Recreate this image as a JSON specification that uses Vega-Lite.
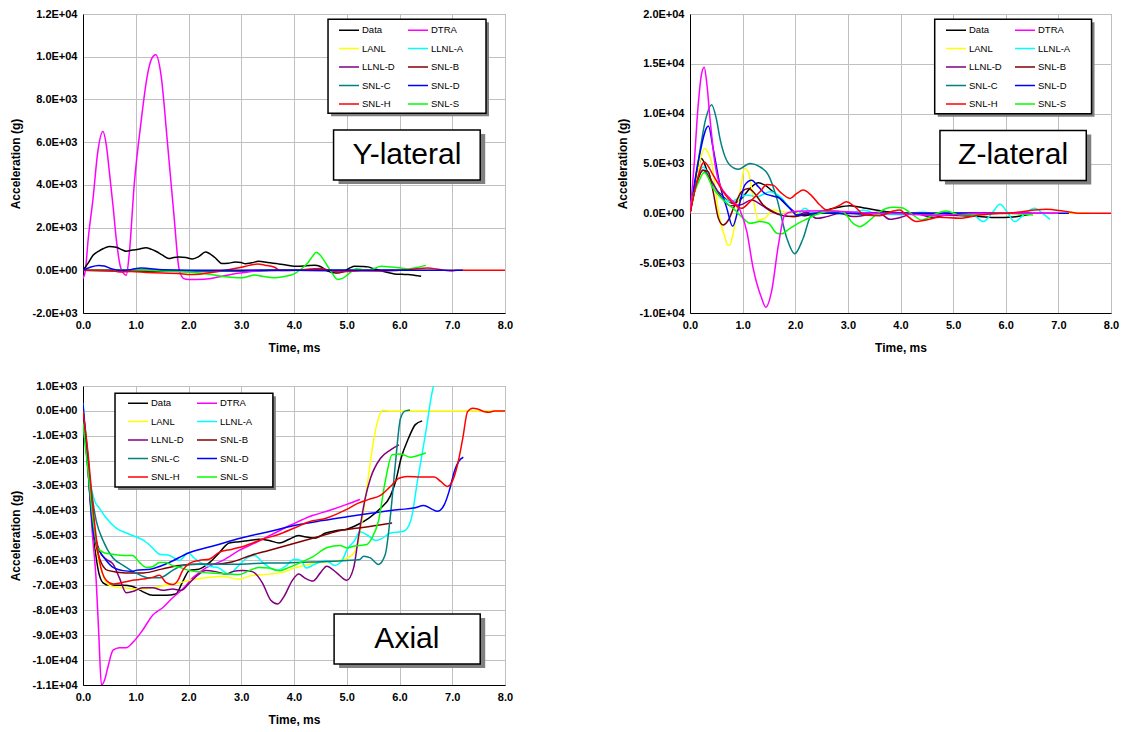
{
"$schema":"https://vega.github.io/schema/vega-lite/v6.json",
"background":"white",
"padding":{"left":8,"top":7,"right":5,"bottom":5},
"config":{
 "font":"Liberation Sans",
 "view":{"stroke":"#808080","strokeWidth":1},
 "axis":{"domainColor":"#000000","domainWidth":1,"gridColor":"#C0C0C0","gridWidth":1,"labelFont":"Liberation Sans","labelFontSize":11,"labelFontWeight":"bold","labelColor":"#000000","titleFont":"Liberation Sans","titleFontSize":12,"titleFontWeight":"bold","titleColor":"#000000","ticks":false,"labelPadding":6,"labelFlush":false,"labelOverlap":false,"labelBound":false,"tickCount":20},
 "legend":{"title":null,"orient":"none","columns":2,"symbolType":"stroke","symbolSize":400,"symbolStrokeWidth":1.5,"labelFont":"Liberation Sans","labelFontSize":9.5,"labelColor":"#000000","padding":0,"rowPadding":2.5,"columnPadding":10,"symbolOffset":0,"labelOffset":2}
},
"datasets":{
"ann":[
 {"p":"Y","k":"label","x1":4.75,"x2":7.53,"y1":6569,"y2":4228},
 {"p":"Z","k":"label","x1":4.75,"x2":7.53,"y1":8322,"y2":3289},
 {"p":"A","k":"label","x1":4.76,"x2":7.53,"y1":-8150,"y2":-10157},
 {"p":"Y","k":"legend","x1":4.645,"x2":7.64,"y1":11752,"y2":7351},
 {"p":"Z","k":"legend","x1":4.65,"x2":7.63,"y1":19466,"y2":10003},
 {"p":"A","k":"legend","x1":0.607,"x2":3.6,"y1":707,"y2":-3053}
],
"lbl":[
 {"p":"Y","label":"Y-lateral","tx":6.14,"ty":5398},
 {"p":"Z","label":"Z-lateral","tx":6.14,"ty":5806},
 {"p":"A","label":"Axial","tx":6.14,"ty":-9153}
],
"ylat":[
 {"s":"LANL","t":0,"v":0},{"s":"LANL","t":0.5,"v":30},{"s":"LANL","t":1,"v":0},{"s":"LANL","t":2,"v":-20},{"s":"LANL","t":3,"v":0},{"s":"LANL","t":4,"v":10},{"s":"LANL","t":5,"v":0},{"s":"LANL","t":6,"v":0},{"s":"LANL","t":7.25,"v":0},
 {"s":"LLNL-A","t":0,"v":0},{"s":"LLNL-A","t":0.5,"v":-20},{"s":"LLNL-A","t":1.5,"v":0},{"s":"LLNL-A","t":2.5,"v":-30},{"s":"LLNL-A","t":3.5,"v":0},{"s":"LLNL-A","t":4.5,"v":20},{"s":"LLNL-A","t":5.5,"v":0},{"s":"LLNL-A","t":6.8,"v":0},
 {"s":"LLNL-D","t":0,"v":0},{"s":"LLNL-D","t":1,"v":-30},{"s":"LLNL-D","t":2,"v":-50},{"s":"LLNL-D","t":3,"v":-20},{"s":"LLNL-D","t":4,"v":0},{"s":"LLNL-D","t":5,"v":-20},{"s":"LLNL-D","t":6,"v":0},
 {"s":"SNL-B","t":0,"v":0},{"s":"SNL-B","t":1,"v":-40},{"s":"SNL-B","t":2,"v":-60},{"s":"SNL-B","t":3,"v":-30},{"s":"SNL-B","t":4,"v":0},{"s":"SNL-B","t":5,"v":-10},{"s":"SNL-B","t":5.9,"v":0},
 {"s":"SNL-C","t":0,"v":0},{"s":"SNL-C","t":1,"v":20},{"s":"SNL-C","t":2,"v":-40},{"s":"SNL-C","t":3,"v":-20},{"s":"SNL-C","t":4,"v":10},{"s":"SNL-C","t":5,"v":0},{"s":"SNL-C","t":6.2,"v":0},
 {"s":"DTRA","t":0,"v":-390},{"s":"DTRA","t":0.045,"v":0},{"s":"DTRA","t":0.1,"v":1500},{"s":"DTRA","t":0.19,"v":3350},{"s":"DTRA","t":0.28,"v":5540},{"s":"DTRA","t":0.377,"v":6500},{"s":"DTRA","t":0.44,"v":5900},{"s":"DTRA","t":0.5,"v":4600},{"s":"DTRA","t":0.57,"v":3000},{"s":"DTRA","t":0.63,"v":1480},{"s":"DTRA","t":0.72,"v":80},{"s":"DTRA","t":0.82,"v":-234},{"s":"DTRA","t":0.88,"v":860},{"s":"DTRA","t":0.97,"v":3980},{"s":"DTRA","t":1.1,"v":6940},{"s":"DTRA","t":1.22,"v":9130},{"s":"DTRA","t":1.3,"v":9900},{"s":"DTRA","t":1.38,"v":10090},{"s":"DTRA","t":1.48,"v":9130},{"s":"DTRA","t":1.6,"v":6000},{"s":"DTRA","t":1.73,"v":2420},{"s":"DTRA","t":1.82,"v":80},{"s":"DTRA","t":1.91,"v":-390},{"s":"DTRA","t":2.0,"v":-430},{"s":"DTRA","t":2.3,"v":-420},{"s":"DTRA","t":2.6,"v":-300},{"s":"DTRA","t":2.9,"v":-150},{"s":"DTRA","t":3.2,"v":-60},{"s":"DTRA","t":3.4,"v":0},
 {"s":"Data","t":0,"v":0},{"s":"Data","t":0.1,"v":350},{"s":"Data","t":0.19,"v":700},{"s":"Data","t":0.3,"v":900},{"s":"Data","t":0.38,"v":1010},{"s":"Data","t":0.5,"v":1110},{"s":"Data","t":0.63,"v":1080},{"s":"Data","t":0.75,"v":950},{"s":"Data","t":0.82,"v":890},{"s":"Data","t":0.94,"v":950},{"s":"Data","t":1.05,"v":980},{"s":"Data","t":1.19,"v":1060},{"s":"Data","t":1.3,"v":980},{"s":"Data","t":1.38,"v":890},{"s":"Data","t":1.5,"v":720},{"s":"Data","t":1.63,"v":550},{"s":"Data","t":1.72,"v":600},{"s":"Data","t":1.82,"v":620},{"s":"Data","t":1.95,"v":600},{"s":"Data","t":2.07,"v":530},{"s":"Data","t":2.2,"v":650},{"s":"Data","t":2.32,"v":860},{"s":"Data","t":2.4,"v":780},{"s":"Data","t":2.5,"v":600},{"s":"Data","t":2.63,"v":320},{"s":"Data","t":2.75,"v":330},{"s":"Data","t":2.89,"v":390},{"s":"Data","t":3.0,"v":360},{"s":"Data","t":3.08,"v":310},{"s":"Data","t":3.2,"v":350},{"s":"Data","t":3.33,"v":420},{"s":"Data","t":3.5,"v":360},{"s":"Data","t":3.7,"v":300},{"s":"Data","t":3.85,"v":250},{"s":"Data","t":4.0,"v":190},{"s":"Data","t":4.2,"v":200},{"s":"Data","t":4.39,"v":240},{"s":"Data","t":4.5,"v":180},{"s":"Data","t":4.64,"v":-40},{"s":"Data","t":4.8,"v":-130},{"s":"Data","t":4.92,"v":-80},{"s":"Data","t":5.05,"v":100},{"s":"Data","t":5.15,"v":190},{"s":"Data","t":5.3,"v":180},{"s":"Data","t":5.4,"v":160},{"s":"Data","t":5.5,"v":80},{"s":"Data","t":5.65,"v":-20},{"s":"Data","t":5.8,"v":-120},{"s":"Data","t":5.9,"v":-170},{"s":"Data","t":6.05,"v":-190},{"s":"Data","t":6.16,"v":-200},{"s":"Data","t":6.3,"v":-240},{"s":"Data","t":6.41,"v":-280},
 {"s":"SNL-S","t":0,"v":0},{"s":"SNL-S","t":0.5,"v":0},{"s":"SNL-S","t":1.0,"v":20},{"s":"SNL-S","t":1.5,"v":-30},{"s":"SNL-S","t":1.8,"v":-60},{"s":"SNL-S","t":2.1,"v":-100},{"s":"SNL-S","t":2.42,"v":-200},{"s":"SNL-S","t":2.7,"v":-300},{"s":"SNL-S","t":2.99,"v":-354},{"s":"SNL-S","t":3.1,"v":-310},{"s":"SNL-S","t":3.25,"v":-215},{"s":"SNL-S","t":3.4,"v":-280},{"s":"SNL-S","t":3.63,"v":-354},{"s":"SNL-S","t":3.8,"v":-300},{"s":"SNL-S","t":4.0,"v":-170},{"s":"SNL-S","t":4.13,"v":50},{"s":"SNL-S","t":4.26,"v":340},{"s":"SNL-S","t":4.35,"v":650},{"s":"SNL-S","t":4.42,"v":850},{"s":"SNL-S","t":4.5,"v":700},{"s":"SNL-S","t":4.58,"v":415},{"s":"SNL-S","t":4.7,"v":-50},{"s":"SNL-S","t":4.83,"v":-430},{"s":"SNL-S","t":4.92,"v":-380},{"s":"SNL-S","t":5.02,"v":-200},{"s":"SNL-S","t":5.18,"v":77},{"s":"SNL-S","t":5.3,"v":30},{"s":"SNL-S","t":5.4,"v":-15},{"s":"SNL-S","t":5.5,"v":60},{"s":"SNL-S","t":5.65,"v":185},{"s":"SNL-S","t":5.78,"v":170},{"s":"SNL-S","t":5.9,"v":140},{"s":"SNL-S","t":6.05,"v":90},{"s":"SNL-S","t":6.16,"v":60},{"s":"SNL-S","t":6.3,"v":120},{"s":"SNL-S","t":6.5,"v":230},
 {"s":"SNL-H","t":0,"v":0},{"s":"SNL-H","t":0.5,"v":0},{"s":"SNL-H","t":0.7,"v":-80},{"s":"SNL-H","t":0.9,"v":-60},{"s":"SNL-H","t":1.2,"v":-100},{"s":"SNL-H","t":1.5,"v":-130},{"s":"SNL-H","t":1.8,"v":-150},{"s":"SNL-H","t":2.04,"v":-200},{"s":"SNL-H","t":2.2,"v":-180},{"s":"SNL-H","t":2.49,"v":-80},{"s":"SNL-H","t":2.75,"v":30},{"s":"SNL-H","t":3.0,"v":140},{"s":"SNL-H","t":3.15,"v":230},{"s":"SNL-H","t":3.31,"v":290},{"s":"SNL-H","t":3.45,"v":240},{"s":"SNL-H","t":3.63,"v":140},{"s":"SNL-H","t":3.75,"v":-15},{"s":"SNL-H","t":3.9,"v":-10},{"s":"SNL-H","t":4.13,"v":15},{"s":"SNL-H","t":4.3,"v":60},{"s":"SNL-H","t":4.5,"v":80},{"s":"SNL-H","t":4.65,"v":20},{"s":"SNL-H","t":4.83,"v":-80},{"s":"SNL-H","t":5.0,"v":-60},{"s":"SNL-H","t":5.27,"v":-15},{"s":"SNL-H","t":5.6,"v":-30},{"s":"SNL-H","t":5.9,"v":-15},{"s":"SNL-H","t":6.2,"v":40},{"s":"SNL-H","t":6.54,"v":110},{"s":"SNL-H","t":6.7,"v":60},{"s":"SNL-H","t":6.85,"v":0},{"s":"SNL-H","t":7.0,"v":-30},{"s":"SNL-H","t":7.1,"v":0},{"s":"SNL-H","t":8.0,"v":0},
 {"s":"SNL-D","t":0,"v":0},{"s":"SNL-D","t":0.15,"v":150},{"s":"SNL-D","t":0.3,"v":220},{"s":"SNL-D","t":0.4,"v":200},{"s":"SNL-D","t":0.55,"v":60},{"s":"SNL-D","t":0.7,"v":0},{"s":"SNL-D","t":0.9,"v":30},{"s":"SNL-D","t":1.1,"v":110},{"s":"SNL-D","t":1.25,"v":80},{"s":"SNL-D","t":1.5,"v":20},{"s":"SNL-D","t":2,"v":0},{"s":"SNL-D","t":3,"v":0},{"s":"SNL-D","t":4,"v":0},{"s":"SNL-D","t":5,"v":0},{"s":"SNL-D","t":6,"v":0},{"s":"SNL-D","t":7.2,"v":0}
],
"zlat":[
 {"s":"Data","t":0,"v":0},{"s":"Data","t":0.1,"v":3000},{"s":"Data","t":0.22,"v":5500},{"s":"Data","t":0.32,"v":4330},{"s":"Data","t":0.44,"v":2830},{"s":"Data","t":0.63,"v":1670},{"s":"Data","t":0.82,"v":1000},{"s":"Data","t":0.98,"v":1500},{"s":"Data","t":1.14,"v":2500},{"s":"Data","t":1.3,"v":3060},{"s":"Data","t":1.42,"v":2830},{"s":"Data","t":1.58,"v":2160},{"s":"Data","t":1.77,"v":1170},{"s":"Data","t":1.96,"v":230},{"s":"Data","t":2.18,"v":-230},{"s":"Data","t":2.47,"v":170},{"s":"Data","t":2.78,"v":570},{"s":"Data","t":3.04,"v":770},{"s":"Data","t":3.35,"v":500},{"s":"Data","t":3.73,"v":170},{"s":"Data","t":4.24,"v":0},{"s":"Data","t":4.87,"v":-170},{"s":"Data","t":5.5,"v":-330},{"s":"Data","t":5.82,"v":-430},{"s":"Data","t":6.14,"v":-370},{"s":"Data","t":6.46,"v":-100},
 {"s":"LANL","t":0,"v":0},{"s":"LANL","t":0.1,"v":2500},{"s":"LANL","t":0.2,"v":5500},{"s":"LANL","t":0.28,"v":6500},{"s":"LANL","t":0.35,"v":6000},{"s":"LANL","t":0.41,"v":5160},{"s":"LANL","t":0.48,"v":2500},{"s":"LANL","t":0.54,"v":170},{"s":"LANL","t":0.6,"v":-1300},{"s":"LANL","t":0.66,"v":-2330},{"s":"LANL","t":0.72,"v":-3200},{"s":"LANL","t":0.76,"v":-3160},{"s":"LANL","t":0.8,"v":-2500},{"s":"LANL","t":0.85,"v":-1170},{"s":"LANL","t":0.95,"v":2160},{"s":"LANL","t":1.04,"v":4500},{"s":"LANL","t":1.11,"v":4160},{"s":"LANL","t":1.2,"v":1500},{"s":"LANL","t":1.3,"v":-670},{"s":"LANL","t":1.42,"v":-500},{"s":"LANL","t":1.58,"v":330},{"s":"LANL","t":1.77,"v":170},{"s":"LANL","t":2.03,"v":0},{"s":"LANL","t":3,"v":0},{"s":"LANL","t":4,"v":0},{"s":"LANL","t":5,"v":0},{"s":"LANL","t":6,"v":0},{"s":"LANL","t":7,"v":0},{"s":"LANL","t":7.6,"v":0},
 {"s":"LLNL-A","t":0,"v":0},{"s":"LLNL-A","t":0.1,"v":2500},{"s":"LLNL-A","t":0.25,"v":4660},{"s":"LLNL-A","t":0.44,"v":2830},{"s":"LLNL-A","t":0.6,"v":1700},{"s":"LLNL-A","t":0.76,"v":1170},{"s":"LLNL-A","t":0.92,"v":1500},{"s":"LLNL-A","t":1.08,"v":1830},{"s":"LLNL-A","t":1.27,"v":1670},{"s":"LLNL-A","t":1.52,"v":2160},{"s":"LLNL-A","t":1.71,"v":1670},{"s":"LLNL-A","t":1.9,"v":500},{"s":"LLNL-A","t":2.03,"v":-170},{"s":"LLNL-A","t":2.18,"v":500},{"s":"LLNL-A","t":2.34,"v":0},{"s":"LLNL-A","t":2.6,"v":200},{"s":"LLNL-A","t":2.9,"v":-100},{"s":"LLNL-A","t":3.3,"v":300},{"s":"LLNL-A","t":3.6,"v":-100},{"s":"LLNL-A","t":4.0,"v":-150},{"s":"LLNL-A","t":4.4,"v":100},{"s":"LLNL-A","t":4.8,"v":-100},{"s":"LLNL-A","t":5.2,"v":0},{"s":"LLNL-A","t":5.4,"v":-200},{"s":"LLNL-A","t":5.57,"v":-830},{"s":"LLNL-A","t":5.75,"v":100},{"s":"LLNL-A","t":5.89,"v":900},{"s":"LLNL-A","t":6.03,"v":100},{"s":"LLNL-A","t":6.17,"v":-830},{"s":"LLNL-A","t":6.35,"v":-100},{"s":"LLNL-A","t":6.55,"v":500},{"s":"LLNL-A","t":6.7,"v":0},{"s":"LLNL-A","t":6.84,"v":-600},
 {"s":"LLNL-D","t":0,"v":0},{"s":"LLNL-D","t":0.1,"v":2500},{"s":"LLNL-D","t":0.25,"v":4330},{"s":"LLNL-D","t":0.38,"v":3500},{"s":"LLNL-D","t":0.57,"v":1830},{"s":"LLNL-D","t":0.76,"v":770},{"s":"LLNL-D","t":0.95,"v":830},{"s":"LLNL-D","t":1.17,"v":1330},{"s":"LLNL-D","t":1.36,"v":830},{"s":"LLNL-D","t":1.55,"v":170},{"s":"LLNL-D","t":1.77,"v":-230},{"s":"LLNL-D","t":1.96,"v":-330},{"s":"LLNL-D","t":2.22,"v":100},{"s":"LLNL-D","t":2.41,"v":-500},{"s":"LLNL-D","t":2.6,"v":-330},{"s":"LLNL-D","t":2.85,"v":0},{"s":"LLNL-D","t":3.1,"v":-330},{"s":"LLNL-D","t":3.35,"v":-170},{"s":"LLNL-D","t":3.6,"v":0},{"s":"LLNL-D","t":3.8,"v":-600},{"s":"LLNL-D","t":4.05,"v":-330},{"s":"LLNL-D","t":4.24,"v":0},{"s":"LLNL-D","t":4.62,"v":-400},{"s":"LLNL-D","t":4.87,"v":-170},{"s":"LLNL-D","t":5.2,"v":0},{"s":"LLNL-D","t":5.6,"v":50},{"s":"LLNL-D","t":6.0,"v":0},
 {"s":"SNL-B","t":0,"v":0},{"s":"SNL-B","t":0.1,"v":2500},{"s":"SNL-B","t":0.25,"v":4330},{"s":"SNL-B","t":0.35,"v":4160},{"s":"SNL-B","t":0.44,"v":2160},{"s":"SNL-B","t":0.54,"v":-500},{"s":"SNL-B","t":0.63,"v":-1170},{"s":"SNL-B","t":0.73,"v":-670},{"s":"SNL-B","t":0.85,"v":830},{"s":"SNL-B","t":0.98,"v":2160},{"s":"SNL-B","t":1.11,"v":2500},{"s":"SNL-B","t":1.23,"v":2000},{"s":"SNL-B","t":1.39,"v":830},{"s":"SNL-B","t":1.58,"v":170},{"s":"SNL-B","t":1.77,"v":-230},{"s":"SNL-B","t":1.96,"v":-330},{"s":"SNL-B","t":2.15,"v":-170},{"s":"SNL-B","t":2.4,"v":0},{"s":"SNL-B","t":3,"v":0},{"s":"SNL-B","t":4,"v":0},{"s":"SNL-B","t":5,"v":0},{"s":"SNL-B","t":5.9,"v":0},
 {"s":"SNL-C","t":0,"v":0},{"s":"SNL-C","t":0.15,"v":5000},{"s":"SNL-C","t":0.3,"v":9500},{"s":"SNL-C","t":0.41,"v":10900},{"s":"SNL-C","t":0.5,"v":9500},{"s":"SNL-C","t":0.57,"v":7500},{"s":"SNL-C","t":0.76,"v":4830},{"s":"SNL-C","t":0.92,"v":4430},{"s":"SNL-C","t":1.14,"v":5000},{"s":"SNL-C","t":1.33,"v":4660},{"s":"SNL-C","t":1.49,"v":3830},{"s":"SNL-C","t":1.65,"v":1500},{"s":"SNL-C","t":1.84,"v":-2500},{"s":"SNL-C","t":1.99,"v":-4060},{"s":"SNL-C","t":2.15,"v":-2500},{"s":"SNL-C","t":2.31,"v":-170},{"s":"SNL-C","t":2.47,"v":0},{"s":"SNL-C","t":2.7,"v":100},{"s":"SNL-C","t":3.0,"v":0},{"s":"SNL-C","t":3.3,"v":-100},{"s":"SNL-C","t":3.6,"v":100},{"s":"SNL-C","t":4.0,"v":0},{"s":"SNL-C","t":4.5,"v":-100},{"s":"SNL-C","t":5.0,"v":50},{"s":"SNL-C","t":5.5,"v":0},{"s":"SNL-C","t":6.0,"v":0},{"s":"SNL-C","t":6.5,"v":0},
 {"s":"SNL-D","t":0,"v":0},{"s":"SNL-D","t":0.15,"v":5000},{"s":"SNL-D","t":0.35,"v":8760},{"s":"SNL-D","t":0.44,"v":6500},{"s":"SNL-D","t":0.57,"v":2830},{"s":"SNL-D","t":0.7,"v":500},{"s":"SNL-D","t":0.81,"v":-1300},{"s":"SNL-D","t":0.92,"v":500},{"s":"SNL-D","t":1.04,"v":2830},{"s":"SNL-D","t":1.17,"v":3330},{"s":"SNL-D","t":1.3,"v":2660},{"s":"SNL-D","t":1.42,"v":2000},{"s":"SNL-D","t":1.55,"v":1770},{"s":"SNL-D","t":1.71,"v":1500},{"s":"SNL-D","t":1.9,"v":500},{"s":"SNL-D","t":2.03,"v":-170},{"s":"SNL-D","t":2.2,"v":-60},{"s":"SNL-D","t":2.5,"v":0},{"s":"SNL-D","t":3,"v":0},{"s":"SNL-D","t":4,"v":0},{"s":"SNL-D","t":5,"v":0},{"s":"SNL-D","t":6,"v":0},{"s":"SNL-D","t":7.2,"v":0},
 {"s":"SNL-S","t":0,"v":800},{"s":"SNL-S","t":0.15,"v":3000},{"s":"SNL-S","t":0.27,"v":4100},{"s":"SNL-S","t":0.44,"v":2500},{"s":"SNL-S","t":0.63,"v":1330},{"s":"SNL-S","t":0.82,"v":500},{"s":"SNL-S","t":0.98,"v":-330},{"s":"SNL-S","t":1.14,"v":-1000},{"s":"SNL-S","t":1.33,"v":-830},{"s":"SNL-S","t":1.49,"v":-1000},{"s":"SNL-S","t":1.65,"v":-2000},{"s":"SNL-S","t":1.74,"v":-2060},{"s":"SNL-S","t":1.9,"v":-1500},{"s":"SNL-S","t":2.09,"v":-900},{"s":"SNL-S","t":2.25,"v":-500},{"s":"SNL-S","t":2.47,"v":0},{"s":"SNL-S","t":2.72,"v":230},{"s":"SNL-S","t":2.91,"v":100},{"s":"SNL-S","t":3.1,"v":-1000},{"s":"SNL-S","t":3.23,"v":-1330},{"s":"SNL-S","t":3.42,"v":-670},{"s":"SNL-S","t":3.61,"v":170},{"s":"SNL-S","t":3.86,"v":600},{"s":"SNL-S","t":4.02,"v":570},{"s":"SNL-S","t":4.24,"v":-170},{"s":"SNL-S","t":4.4,"v":-670},{"s":"SNL-S","t":4.62,"v":-170},{"s":"SNL-S","t":4.87,"v":230},{"s":"SNL-S","t":5.13,"v":-170},{"s":"SNL-S","t":5.5,"v":-100},{"s":"SNL-S","t":5.89,"v":0},{"s":"SNL-S","t":6.2,"v":-50},{"s":"SNL-S","t":6.52,"v":-170},
 {"s":"DTRA","t":0,"v":0},{"s":"DTRA","t":0.08,"v":5000},{"s":"DTRA","t":0.15,"v":10500},{"s":"DTRA","t":0.22,"v":14000},{"s":"DTRA","t":0.27,"v":14650},{"s":"DTRA","t":0.32,"v":13000},{"s":"DTRA","t":0.38,"v":9500},{"s":"DTRA","t":0.47,"v":5160},{"s":"DTRA","t":0.57,"v":2830},{"s":"DTRA","t":0.76,"v":1500},{"s":"DTRA","t":0.95,"v":330},{"s":"DTRA","t":1.08,"v":-1830},{"s":"DTRA","t":1.2,"v":-5500},{"s":"DTRA","t":1.36,"v":-8500},{"s":"DTRA","t":1.44,"v":-9420},{"s":"DTRA","t":1.55,"v":-7830},{"s":"DTRA","t":1.68,"v":-3160},{"s":"DTRA","t":1.8,"v":-170},{"s":"DTRA","t":1.93,"v":170},{"s":"DTRA","t":2.2,"v":230},{"s":"DTRA","t":2.6,"v":250},{"s":"DTRA","t":3.0,"v":150},{"s":"DTRA","t":3.5,"v":0},{"s":"DTRA","t":4.0,"v":-50},{"s":"DTRA","t":4.6,"v":-200},{"s":"DTRA","t":5.0,"v":-150},{"s":"DTRA","t":5.5,"v":0},{"s":"DTRA","t":6.0,"v":0},{"s":"DTRA","t":7.0,"v":0},
 {"s":"SNL-H","t":0,"v":0},{"s":"SNL-H","t":0.1,"v":2500},{"s":"SNL-H","t":0.27,"v":5160},{"s":"SNL-H","t":0.44,"v":3830},{"s":"SNL-H","t":0.63,"v":2160},{"s":"SNL-H","t":0.82,"v":1000},{"s":"SNL-H","t":0.98,"v":500},{"s":"SNL-H","t":1.14,"v":1170},{"s":"SNL-H","t":1.33,"v":2160},{"s":"SNL-H","t":1.46,"v":2900},{"s":"SNL-H","t":1.58,"v":2830},{"s":"SNL-H","t":1.71,"v":2160},{"s":"SNL-H","t":1.9,"v":1500},{"s":"SNL-H","t":2.03,"v":2000},{"s":"SNL-H","t":2.15,"v":2330},{"s":"SNL-H","t":2.3,"v":1830},{"s":"SNL-H","t":2.47,"v":830},{"s":"SNL-H","t":2.6,"v":330},{"s":"SNL-H","t":2.85,"v":830},{"s":"SNL-H","t":2.97,"v":1170},{"s":"SNL-H","t":3.13,"v":670},{"s":"SNL-H","t":3.32,"v":-170},{"s":"SNL-H","t":3.61,"v":-230},{"s":"SNL-H","t":3.86,"v":230},{"s":"SNL-H","t":3.99,"v":330},{"s":"SNL-H","t":4.11,"v":-170},{"s":"SNL-H","t":4.3,"v":-830},{"s":"SNL-H","t":4.49,"v":-670},{"s":"SNL-H","t":4.75,"v":-400},{"s":"SNL-H","t":5.13,"v":-500},{"s":"SNL-H","t":5.5,"v":-170},{"s":"SNL-H","t":6.14,"v":70},{"s":"SNL-H","t":6.77,"v":400},{"s":"SNL-H","t":7.09,"v":230},{"s":"SNL-H","t":7.41,"v":0},{"s":"SNL-H","t":8.0,"v":0}
],
"axial":[
 {"s":"Data","t":0,"v":0},{"s":"Data","t":0.1,"v":-2500},{"s":"Data","t":0.19,"v":-4800},{"s":"Data","t":0.28,"v":-6300},{"s":"Data","t":0.38,"v":-6900},{"s":"Data","t":0.5,"v":-7000},{"s":"Data","t":0.76,"v":-7000},{"s":"Data","t":0.94,"v":-7050},{"s":"Data","t":1.13,"v":-7250},{"s":"Data","t":1.32,"v":-7400},{"s":"Data","t":1.57,"v":-7400},{"s":"Data","t":1.76,"v":-7350},{"s":"Data","t":1.89,"v":-6850},{"s":"Data","t":2.02,"v":-6400},{"s":"Data","t":2.2,"v":-6350},{"s":"Data","t":2.39,"v":-6100},{"s":"Data","t":2.58,"v":-5700},{"s":"Data","t":2.77,"v":-5300},{"s":"Data","t":2.96,"v":-5250},{"s":"Data","t":3.15,"v":-5200},{"s":"Data","t":3.34,"v":-5150},{"s":"Data","t":3.53,"v":-5200},{"s":"Data","t":3.72,"v":-5300},{"s":"Data","t":3.91,"v":-5150},{"s":"Data","t":4.09,"v":-5000},{"s":"Data","t":4.2,"v":-5050},{"s":"Data","t":4.4,"v":-5100},{"s":"Data","t":4.6,"v":-4900},{"s":"Data","t":4.81,"v":-4800},{"s":"Data","t":5.0,"v":-4750},{"s":"Data","t":5.22,"v":-4550},{"s":"Data","t":5.42,"v":-4300},{"s":"Data","t":5.62,"v":-3950},{"s":"Data","t":5.83,"v":-3400},{"s":"Data","t":5.93,"v":-2800},{"s":"Data","t":6.03,"v":-1900},{"s":"Data","t":6.17,"v":-1100},{"s":"Data","t":6.3,"v":-550},{"s":"Data","t":6.43,"v":-400},
 {"s":"DTRA","t":0,"v":0},{"s":"DTRA","t":0.1,"v":-2500},{"s":"DTRA","t":0.18,"v":-5000},{"s":"DTRA","t":0.25,"v":-6800},{"s":"DTRA","t":0.3,"v":-9000},{"s":"DTRA","t":0.35,"v":-11000},{"s":"DTRA","t":0.41,"v":-10800},{"s":"DTRA","t":0.47,"v":-10300},{"s":"DTRA","t":0.57,"v":-9600},{"s":"DTRA","t":0.69,"v":-9500},{"s":"DTRA","t":0.82,"v":-9500},{"s":"DTRA","t":0.94,"v":-9300},{"s":"DTRA","t":1.13,"v":-8800},{"s":"DTRA","t":1.32,"v":-8200},{"s":"DTRA","t":1.51,"v":-7900},{"s":"DTRA","t":1.7,"v":-7500},{"s":"DTRA","t":1.89,"v":-7150},{"s":"DTRA","t":2.08,"v":-6700},{"s":"DTRA","t":2.33,"v":-6300},{"s":"DTRA","t":2.65,"v":-6000},{"s":"DTRA","t":2.96,"v":-5600},{"s":"DTRA","t":3.28,"v":-5280},{"s":"DTRA","t":3.59,"v":-4950},{"s":"DTRA","t":3.97,"v":-4550},{"s":"DTRA","t":4.35,"v":-4200},{"s":"DTRA","t":4.66,"v":-4000},{"s":"DTRA","t":5.0,"v":-3750},{"s":"DTRA","t":5.25,"v":-3550},
 {"s":"LANL","t":0,"v":0},{"s":"LANL","t":0.1,"v":-2500},{"s":"LANL","t":0.25,"v":-5500},{"s":"LANL","t":0.38,"v":-6600},{"s":"LANL","t":0.5,"v":-7000},{"s":"LANL","t":0.76,"v":-7100},{"s":"LANL","t":1.07,"v":-7150},{"s":"LANL","t":1.32,"v":-7100},{"s":"LANL","t":1.57,"v":-7000},{"s":"LANL","t":1.83,"v":-6900},{"s":"LANL","t":2.02,"v":-6800},{"s":"LANL","t":2.33,"v":-6700},{"s":"LANL","t":2.65,"v":-6650},{"s":"LANL","t":2.96,"v":-6750},{"s":"LANL","t":3.21,"v":-6600},{"s":"LANL","t":3.53,"v":-6550},{"s":"LANL","t":3.84,"v":-6450},{"s":"LANL","t":4.0,"v":-6300},{"s":"LANL","t":4.2,"v":-6200},{"s":"LANL","t":4.4,"v":-6100},{"s":"LANL","t":4.67,"v":-6050},{"s":"LANL","t":4.95,"v":-5950},{"s":"LANL","t":5.12,"v":-5750},{"s":"LANL","t":5.2,"v":-5400},{"s":"LANL","t":5.3,"v":-4300},{"s":"LANL","t":5.4,"v":-2800},{"s":"LANL","t":5.5,"v":-1300},{"s":"LANL","t":5.6,"v":-300},{"s":"LANL","t":5.68,"v":30},{"s":"LANL","t":5.8,"v":0},{"s":"LANL","t":8.0,"v":0},
 {"s":"LLNL-A","t":0,"v":300},{"s":"LLNL-A","t":0.06,"v":-1000},{"s":"LLNL-A","t":0.13,"v":-2700},{"s":"LLNL-A","t":0.22,"v":-3600},{"s":"LLNL-A","t":0.31,"v":-3900},{"s":"LLNL-A","t":0.44,"v":-4300},{"s":"LLNL-A","t":0.63,"v":-4700},{"s":"LLNL-A","t":0.82,"v":-4900},{"s":"LLNL-A","t":1.0,"v":-5050},{"s":"LLNL-A","t":1.15,"v":-5200},{"s":"LLNL-A","t":1.32,"v":-5500},{"s":"LLNL-A","t":1.45,"v":-5750},{"s":"LLNL-A","t":1.64,"v":-5800},{"s":"LLNL-A","t":1.83,"v":-6000},{"s":"LLNL-A","t":1.99,"v":-5700},{"s":"LLNL-A","t":2.13,"v":-5950},{"s":"LLNL-A","t":2.33,"v":-6200},{"s":"LLNL-A","t":2.57,"v":-6300},{"s":"LLNL-A","t":2.77,"v":-6550},{"s":"LLNL-A","t":2.91,"v":-6300},{"s":"LLNL-A","t":3.11,"v":-5900},{"s":"LLNL-A","t":3.25,"v":-5800},{"s":"LLNL-A","t":3.42,"v":-6100},{"s":"LLNL-A","t":3.66,"v":-6400},{"s":"LLNL-A","t":3.86,"v":-6200},{"s":"LLNL-A","t":4.0,"v":-5950},{"s":"LLNL-A","t":4.13,"v":-6000},{"s":"LLNL-A","t":4.23,"v":-6300},{"s":"LLNL-A","t":4.4,"v":-6150},{"s":"LLNL-A","t":4.6,"v":-6000},{"s":"LLNL-A","t":4.77,"v":-6200},{"s":"LLNL-A","t":4.91,"v":-6000},{"s":"LLNL-A","t":5.01,"v":-5550},{"s":"LLNL-A","t":5.15,"v":-5200},{"s":"LLNL-A","t":5.25,"v":-4850},{"s":"LLNL-A","t":5.4,"v":-5000},{"s":"LLNL-A","t":5.55,"v":-5200},{"s":"LLNL-A","t":5.64,"v":-5150},{"s":"LLNL-A","t":5.83,"v":-4900},{"s":"LLNL-A","t":6.08,"v":-4830},{"s":"LLNL-A","t":6.21,"v":-4430},{"s":"LLNL-A","t":6.34,"v":-2830},{"s":"LLNL-A","t":6.5,"v":-830},{"s":"LLNL-A","t":6.62,"v":770},{"s":"LLNL-A","t":6.72,"v":1500},
 {"s":"LLNL-D","t":0,"v":0},{"s":"LLNL-D","t":0.1,"v":-2200},{"s":"LLNL-D","t":0.19,"v":-4400},{"s":"LLNL-D","t":0.31,"v":-5600},{"s":"LLNL-D","t":0.44,"v":-5950},{"s":"LLNL-D","t":0.57,"v":-6150},{"s":"LLNL-D","t":0.69,"v":-6700},{"s":"LLNL-D","t":0.82,"v":-7300},{"s":"LLNL-D","t":0.94,"v":-7250},{"s":"LLNL-D","t":1.13,"v":-7100},{"s":"LLNL-D","t":1.32,"v":-7100},{"s":"LLNL-D","t":1.51,"v":-7200},{"s":"LLNL-D","t":1.7,"v":-7150},{"s":"LLNL-D","t":1.86,"v":-7200},{"s":"LLNL-D","t":2.02,"v":-6900},{"s":"LLNL-D","t":2.14,"v":-6650},{"s":"LLNL-D","t":2.33,"v":-6400},{"s":"LLNL-D","t":2.52,"v":-6450},{"s":"LLNL-D","t":2.71,"v":-6550},{"s":"LLNL-D","t":2.83,"v":-6450},{"s":"LLNL-D","t":3.02,"v":-6400},{"s":"LLNL-D","t":3.21,"v":-6450},{"s":"LLNL-D","t":3.4,"v":-6900},{"s":"LLNL-D","t":3.56,"v":-7600},{"s":"LLNL-D","t":3.69,"v":-7750},{"s":"LLNL-D","t":3.81,"v":-7450},{"s":"LLNL-D","t":3.97,"v":-6800},{"s":"LLNL-D","t":4.09,"v":-6550},{"s":"LLNL-D","t":4.2,"v":-6700},{"s":"LLNL-D","t":4.36,"v":-6830},{"s":"LLNL-D","t":4.5,"v":-6500},{"s":"LLNL-D","t":4.62,"v":-6230},{"s":"LLNL-D","t":4.81,"v":-6500},{"s":"LLNL-D","t":5.0,"v":-6800},{"s":"LLNL-D","t":5.13,"v":-6300},{"s":"LLNL-D","t":5.22,"v":-5100},{"s":"LLNL-D","t":5.35,"v":-3500},{"s":"LLNL-D","t":5.45,"v":-2700},{"s":"LLNL-D","t":5.64,"v":-1900},{"s":"LLNL-D","t":5.83,"v":-1560},{"s":"LLNL-D","t":5.99,"v":-1360},
 {"s":"SNL-B","t":0,"v":0},{"s":"SNL-B","t":0.1,"v":-2000},{"s":"SNL-B","t":0.19,"v":-4500},{"s":"SNL-B","t":0.31,"v":-5900},{"s":"SNL-B","t":0.47,"v":-6400},{"s":"SNL-B","t":0.81,"v":-6500},{"s":"SNL-B","t":1.15,"v":-6500},{"s":"SNL-B","t":1.49,"v":-6350},{"s":"SNL-B","t":1.82,"v":-6200},{"s":"SNL-B","t":2.16,"v":-6150},{"s":"SNL-B","t":2.5,"v":-6150},{"s":"SNL-B","t":2.84,"v":-6050},{"s":"SNL-B","t":3.18,"v":-5800},{"s":"SNL-B","t":3.52,"v":-5600},{"s":"SNL-B","t":3.86,"v":-5400},{"s":"SNL-B","t":4.2,"v":-5200},{"s":"SNL-B","t":4.54,"v":-5000},{"s":"SNL-B","t":4.88,"v":-4800},{"s":"SNL-B","t":5.22,"v":-4700},{"s":"SNL-B","t":5.56,"v":-4600},{"s":"SNL-B","t":5.86,"v":-4500},
 {"s":"SNL-C","t":0,"v":-500},{"s":"SNL-C","t":0.13,"v":-2800},{"s":"SNL-C","t":0.25,"v":-4400},{"s":"SNL-C","t":0.38,"v":-5200},{"s":"SNL-C","t":0.57,"v":-5900},{"s":"SNL-C","t":0.76,"v":-6200},{"s":"SNL-C","t":1.0,"v":-6500},{"s":"SNL-C","t":1.26,"v":-6700},{"s":"SNL-C","t":1.45,"v":-6700},{"s":"SNL-C","t":1.7,"v":-6400},{"s":"SNL-C","t":1.89,"v":-6200},{"s":"SNL-C","t":2.2,"v":-6150},{"s":"SNL-C","t":2.5,"v":-6150},{"s":"SNL-C","t":3.0,"v":-6150},{"s":"SNL-C","t":3.5,"v":-6100},{"s":"SNL-C","t":3.86,"v":-6100},{"s":"SNL-C","t":4.5,"v":-6050},{"s":"SNL-C","t":5.0,"v":-6000},{"s":"SNL-C","t":5.25,"v":-5960},{"s":"SNL-C","t":5.32,"v":-5830},{"s":"SNL-C","t":5.45,"v":-5900},{"s":"SNL-C","t":5.6,"v":-6160},{"s":"SNL-C","t":5.73,"v":-5760},{"s":"SNL-C","t":5.83,"v":-4160},{"s":"SNL-C","t":5.92,"v":-2160},{"s":"SNL-C","t":6.02,"v":-290},{"s":"SNL-C","t":6.11,"v":0},{"s":"SNL-C","t":6.2,"v":40},
 {"s":"SNL-D","t":0,"v":300},{"s":"SNL-D","t":0.1,"v":-2500},{"s":"SNL-D","t":0.19,"v":-4800},{"s":"SNL-D","t":0.31,"v":-5600},{"s":"SNL-D","t":0.44,"v":-6000},{"s":"SNL-D","t":0.57,"v":-6280},{"s":"SNL-D","t":0.76,"v":-6410},{"s":"SNL-D","t":0.94,"v":-6440},{"s":"SNL-D","t":1.0,"v":-6400},{"s":"SNL-D","t":1.28,"v":-6350},{"s":"SNL-D","t":1.62,"v":-6100},{"s":"SNL-D","t":2.0,"v":-5700},{"s":"SNL-D","t":2.5,"v":-5400},{"s":"SNL-D","t":3.0,"v":-5100},{"s":"SNL-D","t":3.52,"v":-4850},{"s":"SNL-D","t":4.0,"v":-4600},{"s":"SNL-D","t":4.54,"v":-4400},{"s":"SNL-D","t":5.0,"v":-4250},{"s":"SNL-D","t":5.49,"v":-4100},{"s":"SNL-D","t":6.0,"v":-3960},{"s":"SNL-D","t":6.27,"v":-3900},{"s":"SNL-D","t":6.46,"v":-3800},{"s":"SNL-D","t":6.62,"v":-3950},{"s":"SNL-D","t":6.72,"v":-4030},{"s":"SNL-D","t":6.85,"v":-3760},{"s":"SNL-D","t":6.94,"v":-3230},{"s":"SNL-D","t":7.04,"v":-2430},{"s":"SNL-D","t":7.13,"v":-2000},{"s":"SNL-D","t":7.21,"v":-1860},
 {"s":"SNL-S","t":0,"v":-500},{"s":"SNL-S","t":0.1,"v":-2500},{"s":"SNL-S","t":0.19,"v":-4400},{"s":"SNL-S","t":0.28,"v":-5500},{"s":"SNL-S","t":0.41,"v":-5700},{"s":"SNL-S","t":0.57,"v":-5750},{"s":"SNL-S","t":0.76,"v":-5800},{"s":"SNL-S","t":0.94,"v":-5800},{"s":"SNL-S","t":1.07,"v":-6080},{"s":"SNL-S","t":1.2,"v":-6280},{"s":"SNL-S","t":1.32,"v":-6250},{"s":"SNL-S","t":1.45,"v":-6080},{"s":"SNL-S","t":1.57,"v":-6080},{"s":"SNL-S","t":1.7,"v":-6210},{"s":"SNL-S","t":1.83,"v":-6280},{"s":"SNL-S","t":2.02,"v":-6410},{"s":"SNL-S","t":2.27,"v":-6480},{"s":"SNL-S","t":2.52,"v":-6520},{"s":"SNL-S","t":2.77,"v":-6550},{"s":"SNL-S","t":2.96,"v":-6570},{"s":"SNL-S","t":3.15,"v":-6410},{"s":"SNL-S","t":3.34,"v":-6280},{"s":"SNL-S","t":3.53,"v":-6300},{"s":"SNL-S","t":3.72,"v":-6410},{"s":"SNL-S","t":3.91,"v":-6280},{"s":"SNL-S","t":4.09,"v":-6120},{"s":"SNL-S","t":4.36,"v":-5850},{"s":"SNL-S","t":4.62,"v":-5490},{"s":"SNL-S","t":4.87,"v":-5400},{"s":"SNL-S","t":5.0,"v":-5500},{"s":"SNL-S","t":5.13,"v":-5430},{"s":"SNL-S","t":5.38,"v":-5360},{"s":"SNL-S","t":5.48,"v":-5090},{"s":"SNL-S","t":5.6,"v":-4430},{"s":"SNL-S","t":5.73,"v":-2830},{"s":"SNL-S","t":5.86,"v":-1760},{"s":"SNL-S","t":6.02,"v":-1730},{"s":"SNL-S","t":6.21,"v":-1860},{"s":"SNL-S","t":6.4,"v":-1760},{"s":"SNL-S","t":6.5,"v":-1690},
 {"s":"SNL-H","t":0,"v":0},{"s":"SNL-H","t":0.1,"v":-1800},{"s":"SNL-H","t":0.19,"v":-3900},{"s":"SNL-H","t":0.31,"v":-6000},{"s":"SNL-H","t":0.44,"v":-6800},{"s":"SNL-H","t":0.57,"v":-6950},{"s":"SNL-H","t":0.76,"v":-6880},{"s":"SNL-H","t":0.94,"v":-6800},{"s":"SNL-H","t":1.13,"v":-6750},{"s":"SNL-H","t":1.32,"v":-6680},{"s":"SNL-H","t":1.45,"v":-6600},{"s":"SNL-H","t":1.57,"v":-6880},{"s":"SNL-H","t":1.7,"v":-6970},{"s":"SNL-H","t":1.8,"v":-6800},{"s":"SNL-H","t":1.89,"v":-6400},{"s":"SNL-H","t":2.02,"v":-6120},{"s":"SNL-H","t":2.2,"v":-6000},{"s":"SNL-H","t":2.39,"v":-5950},{"s":"SNL-H","t":2.58,"v":-5680},{"s":"SNL-H","t":2.83,"v":-5550},{"s":"SNL-H","t":3.08,"v":-5410},{"s":"SNL-H","t":3.4,"v":-5150},{"s":"SNL-H","t":3.72,"v":-4950},{"s":"SNL-H","t":4.03,"v":-4680},{"s":"SNL-H","t":4.35,"v":-4410},{"s":"SNL-H","t":4.54,"v":-4350},{"s":"SNL-H","t":5.0,"v":-3950},{"s":"SNL-H","t":5.22,"v":-3700},{"s":"SNL-H","t":5.42,"v":-3550},{"s":"SNL-H","t":5.64,"v":-3390},{"s":"SNL-H","t":5.83,"v":-3030},{"s":"SNL-H","t":5.99,"v":-2700},{"s":"SNL-H","t":6.15,"v":-2630},{"s":"SNL-H","t":6.4,"v":-2650},{"s":"SNL-H","t":6.66,"v":-2650},{"s":"SNL-H","t":6.78,"v":-2830},{"s":"SNL-H","t":6.91,"v":-3030},{"s":"SNL-H","t":7.0,"v":-2830},{"s":"SNL-H","t":7.1,"v":-2160},{"s":"SNL-H","t":7.2,"v":-1090},{"s":"SNL-H","t":7.29,"v":-30},{"s":"SNL-H","t":7.39,"v":110},{"s":"SNL-H","t":7.48,"v":80},{"s":"SNL-H","t":7.61,"v":-30},{"s":"SNL-H","t":7.71,"v":-50},{"s":"SNL-H","t":7.8,"v":0},{"s":"SNL-H","t":8.0,"v":0}
]
},
"columns":2,
"spacing":{"row":73,"column":185},
"bounds":"flush",
"resolve":{"scale":{"color":"independent","x":"independent","y":"independent"},"legend":{"color":"independent"}},
"concat":[
  {"width":422,"height":299,
   "layer":[
    {"data":{"name":"ann"},"transform":[{"filter":"datum.p==='Y' && datum.k==='label'"}],"mark":{"type":"rect","fill":"#808080","xOffset":5,"x2Offset":5,"yOffset":4,"y2Offset":4},
     "encoding":{"x":{"field":"x1","type":"quantitative","scale":{"domain":[0,8],"nice":false}},"x2":{"field":"x2"},"y":{"field":"y1","type":"quantitative","scale":{"domain":[-2000,12000],"nice":false}},"y2":{"field":"y2"}}},
    {"data":{"name":"ann"},"transform":[{"filter":"datum.p==='Y' && datum.k==='legend'"}],"mark":{"type":"rect","fill":"#808080","xOffset":3,"x2Offset":3,"yOffset":3,"y2Offset":3},
     "encoding":{"x":{"field":"x1","type":"quantitative"},"x2":{"field":"x2"},"y":{"field":"y1","type":"quantitative"},"y2":{"field":"y2"}}},
    {"data":{"name":"ann"},"transform":[{"filter":"datum.p==='Y'"}],"mark":{"type":"rect","fill":"#ffffff","stroke":"#000000","strokeWidth":1.5},
     "encoding":{"x":{"field":"x1","type":"quantitative"},"x2":{"field":"x2"},"y":{"field":"y1","type":"quantitative"},"y2":{"field":"y2"}}},
    {"data":{"name":"lbl"},"transform":[{"filter":"datum.p==='Y'"}],"mark":{"type":"text","font":"Liberation Sans","fontSize":30,"color":"#000000","align":"center","baseline":"middle"},
     "encoding":{"x":{"field":"tx","type":"quantitative"},"y":{"field":"ty","type":"quantitative"},"text":{"field":"label"}}},
    {"data":{"name":"ylat"},"mark":{"type":"line","strokeWidth":1.5,"interpolate":"monotone","clip":true},
     "encoding":{
      "x":{"field":"t","type":"quantitative","scale":{"domain":[0,8],"nice":false},"axis":{"values":[0,1,2,3,4,5,6,7,8],"tickCount":20,"format":".1f","title":"Time, ms","titlePadding":12,"labelOverlap":false}},
      "y":{"field":"v","type":"quantitative","scale":{"domain":[-2000,12000],"nice":false},"axis":{"values":[-2000,0,2000,4000,6000,8000,10000,12000],"tickCount":20,"labelExpr":"replace(replace(replace(format(datum.value,'.1e'),'e+','E+0'),'e-','E-0'),'\u2212','-')","title":"Acceleration (g)","titlePadding":10,"labelOverlap":false}},
      "color":{"field":"s","type":"nominal","scale":{"domain":["Data","LANL","LLNL-D","SNL-C","SNL-H","DTRA","LLNL-A","SNL-B","SNL-D","SNL-S"],"range":["#000000","#FFFF00","#800080","#008080","#FF0000","#FF00FF","#00FFFF","#800000","#0000FF","#00FF00"]},
       "legend":{"legendX":255,"legendY":5}}
     }}
   ]},
  {"width":421,"height":299,
   "layer":[
    {"data":{"name":"ann"},"transform":[{"filter":"datum.p==='Z' && datum.k==='label'"}],"mark":{"type":"rect","fill":"#808080","xOffset":5,"x2Offset":5,"yOffset":4,"y2Offset":4},
     "encoding":{"x":{"field":"x1","type":"quantitative","scale":{"domain":[0,8],"nice":false}},"x2":{"field":"x2"},"y":{"field":"y1","type":"quantitative","scale":{"domain":[-10000,20000],"nice":false}},"y2":{"field":"y2"}}},
    {"data":{"name":"ann"},"transform":[{"filter":"datum.p==='Z' && datum.k==='legend'"}],"mark":{"type":"rect","fill":"#808080","xOffset":3,"x2Offset":3,"yOffset":3,"y2Offset":3},
     "encoding":{"x":{"field":"x1","type":"quantitative"},"x2":{"field":"x2"},"y":{"field":"y1","type":"quantitative"},"y2":{"field":"y2"}}},
    {"data":{"name":"ann"},"transform":[{"filter":"datum.p==='Z'"}],"mark":{"type":"rect","fill":"#ffffff","stroke":"#000000","strokeWidth":1.5},
     "encoding":{"x":{"field":"x1","type":"quantitative"},"x2":{"field":"x2"},"y":{"field":"y1","type":"quantitative"},"y2":{"field":"y2"}}},
    {"data":{"name":"lbl"},"transform":[{"filter":"datum.p==='Z'"}],"mark":{"type":"text","font":"Liberation Sans","fontSize":30,"color":"#000000","align":"center","baseline":"middle"},
     "encoding":{"x":{"field":"tx","type":"quantitative"},"y":{"field":"ty","type":"quantitative"},"text":{"field":"label"}}},
    {"data":{"name":"zlat"},"mark":{"type":"line","strokeWidth":1.5,"interpolate":"monotone","clip":true},
     "encoding":{
      "x":{"field":"t","type":"quantitative","scale":{"domain":[0,8],"nice":false},"axis":{"values":[0,1,2,3,4,5,6,7,8],"tickCount":20,"format":".1f","title":"Time, ms","titlePadding":12,"labelOverlap":false}},
      "y":{"field":"v","type":"quantitative","scale":{"domain":[-10000,20000],"nice":false},"axis":{"values":[-10000,-5000,0,5000,10000,15000,20000],"tickCount":20,"labelExpr":"replace(replace(replace(format(datum.value,'.1e'),'e+','E+0'),'e-','E-0'),'\u2212','-')","title":"Acceleration (g)","titlePadding":10,"labelOverlap":false}},
      "color":{"field":"s","type":"nominal","scale":{"domain":["Data","LANL","LLNL-D","SNL-C","SNL-H","DTRA","LLNL-A","SNL-B","SNL-D","SNL-S"],"range":["#000000","#FFFF00","#800080","#008080","#FF0000","#FF00FF","#00FFFF","#800000","#0000FF","#00FF00"]},
       "legend":{"legendX":255,"legendY":5}}
     }}
   ]},
  {"width":422,"height":299,
   "layer":[
    {"data":{"name":"ann"},"transform":[{"filter":"datum.p==='A' && datum.k==='label'"}],"mark":{"type":"rect","fill":"#808080","xOffset":5,"x2Offset":5,"yOffset":4,"y2Offset":4},
     "encoding":{"x":{"field":"x1","type":"quantitative","scale":{"domain":[0,8],"nice":false}},"x2":{"field":"x2"},"y":{"field":"y1","type":"quantitative","scale":{"domain":[-11000,1000],"nice":false}},"y2":{"field":"y2"}}},
    {"data":{"name":"ann"},"transform":[{"filter":"datum.p==='A' && datum.k==='legend'"}],"mark":{"type":"rect","fill":"#808080","xOffset":3,"x2Offset":3,"yOffset":3,"y2Offset":3},
     "encoding":{"x":{"field":"x1","type":"quantitative"},"x2":{"field":"x2"},"y":{"field":"y1","type":"quantitative"},"y2":{"field":"y2"}}},
    {"data":{"name":"ann"},"transform":[{"filter":"datum.p==='A'"}],"mark":{"type":"rect","fill":"#ffffff","stroke":"#000000","strokeWidth":1.5},
     "encoding":{"x":{"field":"x1","type":"quantitative"},"x2":{"field":"x2"},"y":{"field":"y1","type":"quantitative"},"y2":{"field":"y2"}}},
    {"data":{"name":"lbl"},"transform":[{"filter":"datum.p==='A'"}],"mark":{"type":"text","font":"Liberation Sans","fontSize":30,"color":"#000000","align":"center","baseline":"middle"},
     "encoding":{"x":{"field":"tx","type":"quantitative"},"y":{"field":"ty","type":"quantitative"},"text":{"field":"label"}}},
    {"data":{"name":"axial"},"mark":{"type":"line","strokeWidth":1.5,"interpolate":"monotone","clip":true},
     "encoding":{
      "x":{"field":"t","type":"quantitative","scale":{"domain":[0,8],"nice":false},"axis":{"values":[0,1,2,3,4,5,6,7,8],"tickCount":20,"format":".1f","title":"Time, ms","titlePadding":12,"labelOverlap":false}},
      "y":{"field":"v","type":"quantitative","scale":{"domain":[-11000,1000],"nice":false},"axis":{"values":[-11000,-10000,-9000,-8000,-7000,-6000,-5000,-4000,-3000,-2000,-1000,0,1000],"tickCount":20,"labelExpr":"replace(replace(replace(format(datum.value,'.1e'),'e+','E+0'),'e-','E-0'),'\u2212','-')","title":"Acceleration (g)","titlePadding":10,"labelOverlap":false}},
      "color":{"field":"s","type":"nominal","scale":{"domain":["Data","LANL","LLNL-D","SNL-C","SNL-H","DTRA","LLNL-A","SNL-B","SNL-D","SNL-S"],"range":["#000000","#FFFF00","#800080","#008080","#FF0000","#FF00FF","#00FFFF","#800000","#0000FF","#00FF00"]},
       "legend":{"legendX":44,"legendY":6}}
     }}
   ]}
]
}
